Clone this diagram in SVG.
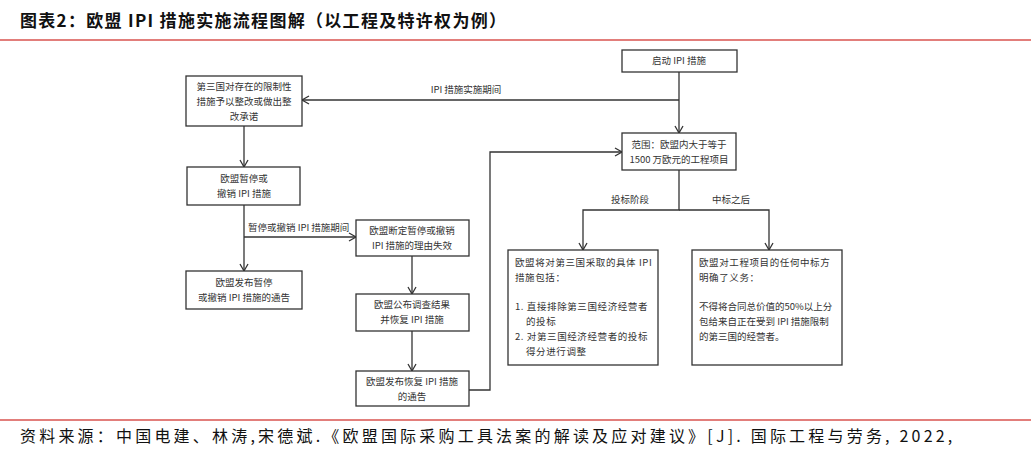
<svg xmlns="http://www.w3.org/2000/svg" width="1031" height="450" viewBox="0 0 1031 450">
<style>
.b{fill:#fff;stroke:#333;stroke-width:1.3}
.t{font-family:"Noto Sans CJK SC",sans-serif;font-size:9.5px;fill:#333}
.s{letter-spacing:0.6px}
.c{text-anchor:middle}
.l{fill:none;stroke:#333;stroke-width:1.3}
</style>
<defs><marker id="a" markerWidth="10" markerHeight="10" refX="8" refY="5" orient="auto" markerUnits="userSpaceOnUse"><path d="M1,1 L8,5 L1,9" fill="none" stroke="#333" stroke-width="1.3"/></marker></defs>
<rect width="1031" height="450" fill="#fff"/>
<text x="20" y="27" font-family="Noto Sans CJK SC,sans-serif" font-size="17" letter-spacing="1.3" font-weight="bold" fill="#111">图表2：欧盟 IPI 措施实施流程图解（以工程及特许权为例）</text>
<line x1="0" y1="40" x2="1031" y2="40" stroke="#d9534f" stroke-width="1.5"/>
<line x1="0" y1="420" x2="1031" y2="420" stroke="#d9534f" stroke-width="1.5"/>
<text x="20" y="442" font-family="Noto Sans CJK SC,sans-serif" font-size="16" letter-spacing="3.2" fill="#111">资料来源：中国电建、林涛,宋德斌.《欧盟国际采购工具法案的解读及应对建议》[J]. 国际工程与劳务, 2022,</text>
<g id="connectors">
<path class="l" d="M679,72 V133" marker-end="url(#a)"/>
<path class="l" d="M679,100 H302" marker-end="url(#a)"/>
<path class="l" d="M244,126 V167" marker-end="url(#a)"/>
<path class="l" d="M244,205 V271" marker-end="url(#a)"/>
<path class="l" d="M244,237 H356" marker-end="url(#a)"/>
<path class="l" d="M412,256 V294" marker-end="url(#a)"/>
<path class="l" d="M412,331 V371" marker-end="url(#a)"/>
<path class="l" d="M469,390 H490 V152 H622" marker-end="url(#a)"/>
<path class="l" d="M679,170 V210 H583 V250" marker-end="url(#a)"/>
<path class="l" d="M679,210 H769 V250" marker-end="url(#a)"/>
<text class="t c" x="466" y="93">IPI 措施实施期间</text>
<text class="t" x="248" y="231">暂停或撤销 IPI 措施期间</text>
<text class="t c" x="630" y="203">投标阶段</text>
<text class="t c" x="731" y="203">中标之后</text>
</g>
<g id="start"><rect class="b" x="622" y="50" width="115" height="22"/><text class="t c" x="679" y="64">启动 IPI 措施</text></g>
<g id="scope"><rect class="b" x="622" y="133" width="114" height="37"/><text class="t c" x="679" y="148">范围：欧盟内大于等于</text><text class="t c" x="679" y="163">1500 万欧元的工程项目</text></g>
<g id="rectify"><rect class="b" x="186" y="76" width="116" height="50"/><text class="t c" x="244" y="90">第三国对存在的限制性</text><text class="t c" x="244" y="105">措施予以整改或做出整</text><text class="t c" x="244" y="120">改承诺</text></g>
<g id="suspend"><rect class="b" x="187" y="167" width="113" height="38"/><text class="t c" x="244" y="182">欧盟暂停或</text><text class="t c" x="244" y="197">撤销 IPI 措施</text></g>
<g id="notice1"><rect class="b" x="186" y="271" width="116" height="38"/><text class="t c" x="244" y="286">欧盟发布暂停</text><text class="t c" x="244" y="301">或撤销 IPI 措施的通告</text></g>
<g id="invalid"><rect class="b" x="356" y="220" width="113" height="36"/><text class="t c" x="412" y="234">欧盟断定暂停或撤销</text><text class="t c" x="412" y="249">IPI 措施的理由失效</text></g>
<g id="publish"><rect class="b" x="356" y="294" width="113" height="37"/><text class="t c" x="412" y="308">欧盟公布调查结果</text><text class="t c" x="412" y="323">并恢复 IPI 措施</text></g>
<g id="notice2"><rect class="b" x="356" y="371" width="113" height="35"/><text class="t c" x="412" y="385">欧盟发布恢复 IPI 措施</text><text class="t c" x="412" y="400">的通告</text></g>
<g id="bid"><rect class="b" x="508" y="250" width="150" height="115"/>
<text class="t s" x="515" y="266">欧盟将对第三国采取的具体 IPI</text><text class="t s" x="515" y="281">措施包括：</text>
<text class="t s" x="515" y="310">1. 直接排除第三国经济经营者</text><text class="t s" x="526" y="325">的投标</text>
<text class="t s" x="515" y="340">2. 对第三国经济经营者的投标</text><text class="t s" x="526" y="355">得分进行调整</text></g>
<g id="award"><rect class="b" x="692" y="250" width="150" height="115"/>
<text class="t s" x="699" y="266">欧盟对工程项目的任何中标方</text><text class="t s" x="699" y="281">明确了义务：</text>
<text class="t" x="699" y="310">不得将合同总价值的50%以上分</text><text class="t" x="699" y="325">包给来自正在受到 IPI 措施限制</text><text class="t" x="699" y="340">的第三国的经营者。</text></g>
</svg>
